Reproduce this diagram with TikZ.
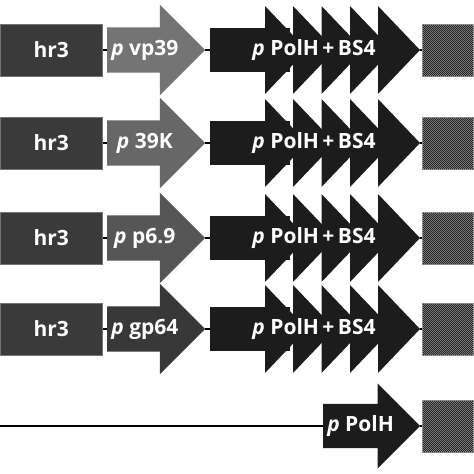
\documentclass[tikz,border=0pt]{standalone}
\usepackage{fontspec}
\setmainfont{Open Sans}
\usetikzlibrary{shapes.arrows, patterns.meta}
\definecolor{colorhr}{HTML}{3A3A3A}
\definecolor{colorpolh}{HTML}{1C1C1C}
\definecolor{colorrep}{HTML}{1A1A1A}

% fine checks for the reporter boxes
\tikzdeclarepattern{
    name=finechecks,
    type=uncolored,
    bottom left={(0pt,0pt)},
    top right={(2.4pt,2.4pt)},
    tile size={(2.4pt,2.4pt)},
    code={
        \fill (0pt,0pt) rectangle (1.2pt,1.2pt);
        \fill (1.2pt,1.2pt) rectangle (2.4pt,2.4pt);
    }
}

\begin{document}
\begin{tikzpicture}[
    x=1pt, y=-1pt,
    % White bold labels everywhere
    every node/.style={font=\fontsize{21}{24}\selectfont\bfseries, text=white},
    % Enhancer box
    hrbox/.style={
        rectangle,
        fill=colorhr,
        draw=black!55,
        line width=0.6pt,
        minimum width=102pt,
        minimum height=52pt,
        inner sep=0pt
    },
    % Early promoter arrow
    promoter/.style={
        single arrow,
        single arrow head extend=22.5pt,
        minimum height=98pt,
        text height=15pt,
        text depth=4pt,
        inner xsep=3pt,
        inner ysep=13pt
    },
    % Body of the PolH+BS4 block
    polhbody/.style={
        rectangle,
        fill=colorpolh,
        minimum width=80pt,
        minimum height=44pt,
        inner sep=0pt
    },
    % One of the stacked heads
    polhhead/.style={
        fill=colorpolh
    },
    % Reporter box with fine checks
    repbox/.style={
        rectangle,
        fill=colorrep,
        draw=gray!80,
        line width=0.6pt,
        minimum width=51pt,
        minimum height=52pt,
        inner sep=0pt,
        postaction={pattern=finechecks, pattern color=gray!95!black}
    },
    link/.style={black, line width=1.6pt}
]
\useasboundingbox (0,0) rectangle (474,474);

% ==============================
% Rows 1-4: hr3 + promoter + PolH/BS4 + reporter
% ==============================
\foreach \i/\ry/\shade/\plabel in {
    1/50/747474/vp39,
    2/143/676767/39K,
    3/238/565656/p6.9,
    4/329/383838/gp64}{
    \definecolor{colorprom}{HTML}{\shade}

    \node[hrbox, anchor=west] (hr\i) at (0,\ry) {hr3};

    \node[promoter, fill=colorprom, anchor=tail] (prom\i) at (107,\ry)
        {\textit{p} \plabel};

    \node[polhbody, anchor=west] (body\i) at (210,\ry) {};
    \foreach \b in {265,293,321.5,350,378}
        \fill[polhhead] (\b,\ry-44) -- (\b+42,\ry) -- (\b,\ry+44) -- cycle;
    \coordinate (tip\i) at (420,\ry);
    \node (lab\i) at (314,\ry) {\textit{p} PolH\,+\,BS4};

    \node[repbox, anchor=west] (rep\i) at (422,\ry) {};

    \draw[link] (hr\i.east) -- (prom\i.tail);
    \draw[link] (prom\i.tip) -- (body\i.west);
    \draw[link] (tip\i) -- (rep\i.west);
}

% ==============================
% Row 5: PolH only
% ==============================
\coordinate (start) at (0,426);
\node[promoter, fill=colorpolh, anchor=tail, minimum height=97pt,
    single arrow head extend=20.5pt, inner ysep=12.5pt] (polh5) at (323,426)
    {\textit{p} PolH};
\node[repbox, anchor=west] (rep5) at (422,426) {};

\draw[link, line width=2.2pt] (start) -- (polh5.tail);
\draw[link] (polh5.tip) -- (rep5.west);

\end{tikzpicture}
\end{document}
